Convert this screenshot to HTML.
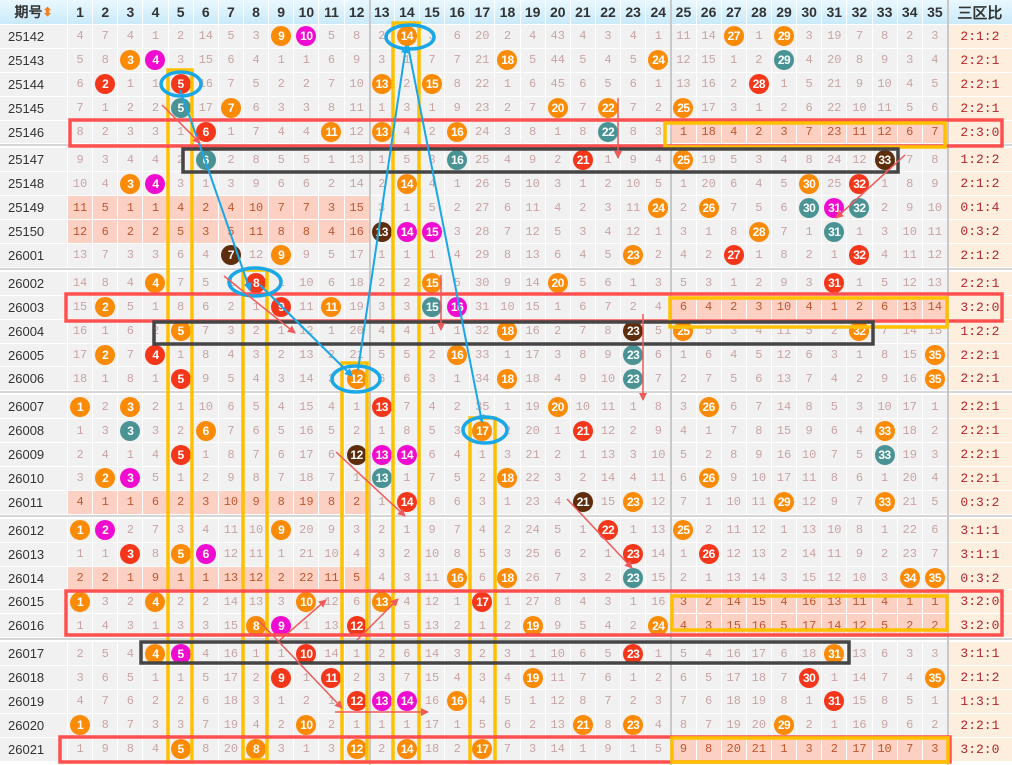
<!DOCTYPE html>
<html><head><meta charset="utf-8">
<style>
*{margin:0;padding:0;box-sizing:border-box}
body{width:1012px;height:765px;overflow:hidden;background:#fff;font-family:"Liberation Sans","Noto Sans CJK SC",sans-serif;position:relative}
.r{display:grid;grid-template-columns:68px repeat(35,25.143px) 64px;height:23.9px}
.r b{display:flex;align-items:center;justify-content:center;background:#f1f1f1;border-right:1px solid #fff;border-bottom:1px solid #fff;font-weight:normal;font-size:12px;color:#c9a4a4;font-family:"Liberation Mono",monospace}
.r b:first-child{color:#333;font-size:13px;justify-content:flex-start;padding-left:8px;font-family:"Liberation Sans",sans-serif}
.r b:last-child{background:#fdeede;color:#b3262b;font-size:13px;border-right:none}
.pl b:nth-child(n+2):nth-child(-n+13),.pr b:nth-child(n+26):nth-child(-n+36){background:#fcd1c4;color:#c0562e}
.r i{font-style:normal;width:20px;height:20px;border-radius:50%;color:#fff;font-weight:bold;font-size:12px;display:flex;align-items:center;justify-content:center;font-family:"Liberation Sans",sans-serif;letter-spacing:-0.5px}
.o{background:#fb8a04}.m{background:#f00bd0}.rd{background:#f4361a}.t{background:#4a9395}.d{background:#5e2e0c}
.h{height:25px}
.h b{background:linear-gradient(#eaf8fe,#c9eafa)!important;color:#333!important;font-weight:bold!important;font-size:14px!important;font-family:"Liberation Sans",sans-serif!important;justify-content:center!important;padding:0!important}
.h b:last-child{background:linear-gradient(#eaf8fe,#c9eafa)!important;font-size:15px!important}
.sep{height:4px;background:#fff;border-top:2px solid #d6d6d6}
svg{position:absolute;left:0;top:0}
</style></head><body>
<div class="r h"><b>期号<span style="color:#f08020;font-size:12px">⬍</span></b><b>1</b><b>2</b><b>3</b><b>4</b><b>5</b><b>6</b><b>7</b><b>8</b><b>9</b><b>10</b><b>11</b><b>12</b><b>13</b><b>14</b><b>15</b><b>16</b><b>17</b><b>18</b><b>19</b><b>20</b><b>21</b><b>22</b><b>23</b><b>24</b><b>25</b><b>26</b><b>27</b><b>28</b><b>29</b><b>30</b><b>31</b><b>32</b><b>33</b><b>34</b><b>35</b><b>三区比</b></div>

<div class="r"><b>25142</b><b>4</b><b>7</b><b>4</b><b>1</b><b>2</b><b>14</b><b>5</b><b>3</b><b><i class="o">9</i></b><b><i class="m">10</i></b><b>5</b><b>8</b><b>2</b><b><i class="o">14</i></b><b>3</b><b>6</b><b>20</b><b>2</b><b>4</b><b>43</b><b>4</b><b>3</b><b>4</b><b>1</b><b>11</b><b>14</b><b><i class="o">27</i></b><b>1</b><b><i class="o">29</i></b><b>3</b><b>19</b><b>7</b><b>8</b><b>2</b><b>3</b><b>2:1:2</b></div>
<div class="r"><b>25143</b><b>5</b><b>8</b><b><i class="o">3</i></b><b><i class="m">4</i></b><b>3</b><b>15</b><b>6</b><b>4</b><b>1</b><b>1</b><b>6</b><b>9</b><b>3</b><b>1</b><b>7</b><b>7</b><b>21</b><b><i class="o">18</i></b><b>5</b><b>44</b><b>5</b><b>4</b><b>5</b><b><i class="o">24</i></b><b>12</b><b>15</b><b>1</b><b>2</b><b><i class="t">29</i></b><b>4</b><b>20</b><b>8</b><b>9</b><b>3</b><b>4</b><b>2:2:1</b></div>
<div class="r"><b>25144</b><b>6</b><b><i class="rd">2</i></b><b>1</b><b>1</b><b><i class="rd">5</i></b><b>16</b><b>7</b><b>5</b><b>2</b><b>2</b><b>7</b><b>10</b><b><i class="o">13</i></b><b>2</b><b><i class="o">15</i></b><b>8</b><b>22</b><b>1</b><b>6</b><b>45</b><b>6</b><b>5</b><b>6</b><b>1</b><b>13</b><b>16</b><b>2</b><b><i class="rd">28</i></b><b>1</b><b>5</b><b>21</b><b>9</b><b>10</b><b>4</b><b>5</b><b>2:2:1</b></div>
<div class="r"><b>25145</b><b>7</b><b>1</b><b>2</b><b>2</b><b><i class="t">5</i></b><b>17</b><b><i class="o">7</i></b><b>6</b><b>3</b><b>3</b><b>8</b><b>11</b><b>1</b><b>3</b><b>1</b><b>9</b><b>23</b><b>2</b><b>7</b><b><i class="o">20</i></b><b>7</b><b><i class="o">22</i></b><b>7</b><b>2</b><b><i class="o">25</i></b><b>17</b><b>3</b><b>1</b><b>2</b><b>6</b><b>22</b><b>10</b><b>11</b><b>5</b><b>6</b><b>2:2:1</b></div>
<div class="r pr"><b>25146</b><b>8</b><b>2</b><b>3</b><b>3</b><b>1</b><b><i class="rd">6</i></b><b>1</b><b>7</b><b>4</b><b>4</b><b><i class="o">11</i></b><b>12</b><b><i class="o">13</i></b><b>4</b><b>2</b><b><i class="o">16</i></b><b>24</b><b>3</b><b>8</b><b>1</b><b>8</b><b><i class="t">22</i></b><b>8</b><b>3</b><b>1</b><b>18</b><b>4</b><b>2</b><b>3</b><b>7</b><b>23</b><b>11</b><b>12</b><b>6</b><b>7</b><b>2:3:0</b></div>
<div class="sep"></div>
<div class="r"><b>25147</b><b>9</b><b>3</b><b>4</b><b>4</b><b>2</b><b><i class="t">6</i></b><b>2</b><b>8</b><b>5</b><b>5</b><b>1</b><b>13</b><b>1</b><b>5</b><b>3</b><b><i class="t">16</i></b><b>25</b><b>4</b><b>9</b><b>2</b><b><i class="rd">21</i></b><b>1</b><b>9</b><b>4</b><b><i class="o">25</i></b><b>19</b><b>5</b><b>3</b><b>4</b><b>8</b><b>24</b><b>12</b><b><i class="d">33</i></b><b>7</b><b>8</b><b>1:2:2</b></div>
<div class="r"><b>25148</b><b>10</b><b>4</b><b><i class="o">3</i></b><b><i class="m">4</i></b><b>3</b><b>1</b><b>3</b><b>9</b><b>6</b><b>6</b><b>2</b><b>14</b><b>2</b><b><i class="o">14</i></b><b>4</b><b>1</b><b>26</b><b>5</b><b>10</b><b>3</b><b>1</b><b>2</b><b>10</b><b>5</b><b>1</b><b>20</b><b>6</b><b>4</b><b>5</b><b><i class="o">30</i></b><b>25</b><b><i class="rd">32</i></b><b>1</b><b>8</b><b>9</b><b>2:1:2</b></div>
<div class="r pl"><b>25149</b><b>11</b><b>5</b><b>1</b><b>1</b><b>4</b><b>2</b><b>4</b><b>10</b><b>7</b><b>7</b><b>3</b><b>15</b><b>3</b><b>1</b><b>5</b><b>2</b><b>27</b><b>6</b><b>11</b><b>4</b><b>2</b><b>3</b><b>11</b><b><i class="o">24</i></b><b>2</b><b><i class="o">26</i></b><b>7</b><b>5</b><b>6</b><b><i class="t">30</i></b><b><i class="m">31</i></b><b><i class="t">32</i></b><b>2</b><b>9</b><b>10</b><b>0:1:4</b></div>
<div class="r pl"><b>25150</b><b>12</b><b>6</b><b>2</b><b>2</b><b>5</b><b>3</b><b>5</b><b>11</b><b>8</b><b>8</b><b>4</b><b>16</b><b><i class="d">13</i></b><b><i class="m">14</i></b><b><i class="m">15</i></b><b>3</b><b>28</b><b>7</b><b>12</b><b>5</b><b>3</b><b>4</b><b>12</b><b>1</b><b>3</b><b>1</b><b>8</b><b><i class="o">28</i></b><b>7</b><b>1</b><b><i class="t">31</i></b><b>1</b><b>3</b><b>10</b><b>11</b><b>0:3:2</b></div>
<div class="r"><b>26001</b><b>13</b><b>7</b><b>3</b><b>3</b><b>6</b><b>4</b><b><i class="d">7</i></b><b>12</b><b><i class="o">9</i></b><b>9</b><b>5</b><b>17</b><b>1</b><b>1</b><b>1</b><b>4</b><b>29</b><b>8</b><b>13</b><b>6</b><b>4</b><b>5</b><b><i class="o">23</i></b><b>2</b><b>4</b><b>2</b><b><i class="rd">27</i></b><b>1</b><b>8</b><b>2</b><b>1</b><b><i class="rd">32</i></b><b>4</b><b>11</b><b>12</b><b>2:1:2</b></div>
<div class="sep"></div>
<div class="r"><b>26002</b><b>14</b><b>8</b><b>4</b><b><i class="o">4</i></b><b>7</b><b>5</b><b>1</b><b><i class="rd">8</i></b><b>1</b><b>10</b><b>6</b><b>18</b><b>2</b><b>2</b><b><i class="o">15</i></b><b>5</b><b>30</b><b>9</b><b>14</b><b><i class="o">20</i></b><b>5</b><b>6</b><b>1</b><b>3</b><b>5</b><b>3</b><b>1</b><b>2</b><b>9</b><b>3</b><b><i class="rd">31</i></b><b>1</b><b>5</b><b>12</b><b>13</b><b>2:2:1</b></div>
<div class="r pr"><b>26003</b><b>15</b><b><i class="o">2</i></b><b>5</b><b>1</b><b>8</b><b>6</b><b>2</b><b>1</b><b><i class="rd">9</i></b><b>11</b><b><i class="o">11</i></b><b>19</b><b>3</b><b>3</b><b><i class="t">15</i></b><b><i class="m">16</i></b><b>31</b><b>10</b><b>15</b><b>1</b><b>6</b><b>7</b><b>2</b><b>4</b><b>6</b><b>4</b><b>2</b><b>3</b><b>10</b><b>4</b><b>1</b><b>2</b><b>6</b><b>13</b><b>14</b><b>3:2:0</b></div>
<div class="r"><b>26004</b><b>16</b><b>1</b><b>6</b><b>2</b><b><i class="o">5</i></b><b>7</b><b>3</b><b>2</b><b>1</b><b>12</b><b>1</b><b>20</b><b>4</b><b>4</b><b>1</b><b>1</b><b>32</b><b><i class="o">18</i></b><b>16</b><b>2</b><b>7</b><b>8</b><b><i class="d">23</i></b><b>5</b><b><i class="o">25</i></b><b>5</b><b>3</b><b>4</b><b>11</b><b>5</b><b>2</b><b><i class="o">32</i></b><b>7</b><b>14</b><b>15</b><b>1:2:2</b></div>
<div class="r"><b>26005</b><b>17</b><b><i class="o">2</i></b><b>7</b><b><i class="rd">4</i></b><b>1</b><b>8</b><b>4</b><b>3</b><b>2</b><b>13</b><b>2</b><b>21</b><b>5</b><b>5</b><b>2</b><b><i class="o">16</i></b><b>33</b><b>1</b><b>17</b><b>3</b><b>8</b><b>9</b><b><i class="t">23</i></b><b>6</b><b>1</b><b>6</b><b>4</b><b>5</b><b>12</b><b>6</b><b>3</b><b>1</b><b>8</b><b>15</b><b><i class="o">35</i></b><b>2:2:1</b></div>
<div class="r"><b>26006</b><b>18</b><b>1</b><b>8</b><b>1</b><b><i class="rd">5</i></b><b>9</b><b>5</b><b>4</b><b>3</b><b>14</b><b>3</b><b><i class="o">12</i></b><b>6</b><b>6</b><b>3</b><b>1</b><b>34</b><b><i class="o">18</i></b><b>18</b><b>4</b><b>9</b><b>10</b><b><i class="t">23</i></b><b>7</b><b>2</b><b>7</b><b>5</b><b>6</b><b>13</b><b>7</b><b>4</b><b>2</b><b>9</b><b>16</b><b><i class="o">35</i></b><b>2:2:1</b></div>
<div class="sep"></div>
<div class="r"><b>26007</b><b><i class="o">1</i></b><b>2</b><b><i class="o">3</i></b><b>2</b><b>1</b><b>10</b><b>6</b><b>5</b><b>4</b><b>15</b><b>4</b><b>1</b><b><i class="rd">13</i></b><b>7</b><b>4</b><b>2</b><b>35</b><b>1</b><b>19</b><b><i class="o">20</i></b><b>10</b><b>11</b><b>1</b><b>8</b><b>3</b><b><i class="o">26</i></b><b>6</b><b>7</b><b>14</b><b>8</b><b>5</b><b>3</b><b>10</b><b>17</b><b>1</b><b>2:2:1</b></div>
<div class="r"><b>26008</b><b>1</b><b>3</b><b><i class="t">3</i></b><b>3</b><b>2</b><b><i class="o">6</i></b><b>7</b><b>6</b><b>5</b><b>16</b><b>5</b><b>2</b><b>1</b><b>8</b><b>5</b><b>3</b><b><i class="o">17</i></b><b>2</b><b>20</b><b>1</b><b><i class="rd">21</i></b><b>12</b><b>2</b><b>9</b><b>4</b><b>1</b><b>7</b><b>8</b><b>15</b><b>9</b><b>6</b><b>4</b><b><i class="o">33</i></b><b>18</b><b>2</b><b>2:2:1</b></div>
<div class="r"><b>26009</b><b>2</b><b>4</b><b>1</b><b>4</b><b><i class="rd">5</i></b><b>1</b><b>8</b><b>7</b><b>6</b><b>17</b><b>6</b><b><i class="d">12</i></b><b><i class="m">13</i></b><b><i class="m">14</i></b><b>6</b><b>4</b><b>1</b><b>3</b><b>21</b><b>2</b><b>1</b><b>13</b><b>3</b><b>10</b><b>5</b><b>2</b><b>8</b><b>9</b><b>16</b><b>10</b><b>7</b><b>5</b><b><i class="t">33</i></b><b>19</b><b>3</b><b>2:2:1</b></div>
<div class="r"><b>26010</b><b>3</b><b><i class="o">2</i></b><b><i class="m">3</i></b><b>5</b><b>1</b><b>2</b><b>9</b><b>8</b><b>7</b><b>18</b><b>7</b><b>1</b><b><i class="t">13</i></b><b>1</b><b>7</b><b>5</b><b>2</b><b><i class="o">18</i></b><b>22</b><b>3</b><b>2</b><b>14</b><b>4</b><b>11</b><b>6</b><b><i class="o">26</i></b><b>9</b><b>10</b><b>17</b><b>11</b><b>8</b><b>6</b><b>1</b><b>20</b><b>4</b><b>2:2:1</b></div>
<div class="r pl"><b>26011</b><b>4</b><b>1</b><b>1</b><b>6</b><b>2</b><b>3</b><b>10</b><b>9</b><b>8</b><b>19</b><b>8</b><b>2</b><b>1</b><b><i class="rd">14</i></b><b>8</b><b>6</b><b>3</b><b>1</b><b>23</b><b>4</b><b><i class="d">21</i></b><b>15</b><b><i class="o">23</i></b><b>12</b><b>7</b><b>1</b><b>10</b><b>11</b><b><i class="o">29</i></b><b>12</b><b>9</b><b>7</b><b><i class="o">33</i></b><b>21</b><b>5</b><b>0:3:2</b></div>
<div class="sep"></div>
<div class="r"><b>26012</b><b><i class="o">1</i></b><b><i class="m">2</i></b><b>2</b><b>7</b><b>3</b><b>4</b><b>11</b><b>10</b><b><i class="o">9</i></b><b>20</b><b>9</b><b>3</b><b>2</b><b>1</b><b>9</b><b>7</b><b>4</b><b>2</b><b>24</b><b>5</b><b>1</b><b><i class="rd">22</i></b><b>1</b><b>13</b><b><i class="o">25</i></b><b>2</b><b>11</b><b>12</b><b>1</b><b>13</b><b>10</b><b>8</b><b>1</b><b>22</b><b>6</b><b>3:1:1</b></div>
<div class="r"><b>26013</b><b>1</b><b>1</b><b><i class="rd">3</i></b><b>8</b><b><i class="o">5</i></b><b><i class="m">6</i></b><b>12</b><b>11</b><b>1</b><b>21</b><b>10</b><b>4</b><b>3</b><b>2</b><b>10</b><b>8</b><b>5</b><b>3</b><b>25</b><b>6</b><b>2</b><b>1</b><b><i class="rd">23</i></b><b>14</b><b>1</b><b><i class="rd">26</i></b><b>12</b><b>13</b><b>2</b><b>14</b><b>11</b><b>9</b><b>2</b><b>23</b><b>7</b><b>3:1:1</b></div>
<div class="r pl"><b>26014</b><b>2</b><b>2</b><b>1</b><b>9</b><b>1</b><b>1</b><b>13</b><b>12</b><b>2</b><b>22</b><b>11</b><b>5</b><b>4</b><b>3</b><b>11</b><b><i class="o">16</i></b><b>6</b><b><i class="o">18</i></b><b>26</b><b>7</b><b>3</b><b>2</b><b><i class="t">23</i></b><b>15</b><b>2</b><b>1</b><b>13</b><b>14</b><b>3</b><b>15</b><b>12</b><b>10</b><b>3</b><b><i class="o">34</i></b><b><i class="o">35</i></b><b>0:3:2</b></div>
<div class="r pr"><b>26015</b><b><i class="o">1</i></b><b>3</b><b>2</b><b><i class="o">4</i></b><b>2</b><b>2</b><b>14</b><b>13</b><b>3</b><b><i class="o">10</i></b><b>12</b><b>6</b><b><i class="o">13</i></b><b>4</b><b>12</b><b>1</b><b><i class="rd">17</i></b><b>1</b><b>27</b><b>8</b><b>4</b><b>3</b><b>1</b><b>16</b><b>3</b><b>2</b><b>14</b><b>15</b><b>4</b><b>16</b><b>13</b><b>11</b><b>4</b><b>1</b><b>1</b><b>3:2:0</b></div>
<div class="r pr"><b>26016</b><b>1</b><b>4</b><b>3</b><b>1</b><b>3</b><b>3</b><b>15</b><b><i class="o">8</i></b><b><i class="m">9</i></b><b>1</b><b>13</b><b><i class="rd">12</i></b><b>1</b><b>5</b><b>13</b><b>2</b><b>1</b><b>2</b><b><i class="o">19</i></b><b>9</b><b>5</b><b>4</b><b>2</b><b><i class="o">24</i></b><b>4</b><b>3</b><b>15</b><b>16</b><b>5</b><b>17</b><b>14</b><b>12</b><b>5</b><b>2</b><b>2</b><b>3:2:0</b></div>
<div class="sep"></div>
<div class="r"><b>26017</b><b>2</b><b>5</b><b>4</b><b><i class="o">4</i></b><b><i class="m">5</i></b><b>4</b><b>16</b><b>1</b><b>1</b><b><i class="rd">10</i></b><b>14</b><b>1</b><b>2</b><b>6</b><b>14</b><b>3</b><b>2</b><b>3</b><b>1</b><b>10</b><b>6</b><b>5</b><b><i class="rd">23</i></b><b>1</b><b>5</b><b>4</b><b>16</b><b>17</b><b>6</b><b>18</b><b><i class="o">31</i></b><b>13</b><b>6</b><b>3</b><b>3</b><b>3:1:1</b></div>
<div class="r"><b>26018</b><b>3</b><b>6</b><b>5</b><b>1</b><b>1</b><b>5</b><b>17</b><b>2</b><b><i class="rd">9</i></b><b>1</b><b><i class="rd">11</i></b><b>2</b><b>3</b><b>7</b><b>15</b><b>4</b><b>3</b><b>4</b><b><i class="o">19</i></b><b>11</b><b>7</b><b>6</b><b>1</b><b>2</b><b>6</b><b>5</b><b>17</b><b>18</b><b>7</b><b><i class="rd">30</i></b><b>1</b><b>14</b><b>7</b><b>4</b><b><i class="o">35</i></b><b>2:1:2</b></div>
<div class="r"><b>26019</b><b>4</b><b>7</b><b>6</b><b>2</b><b>2</b><b>6</b><b>18</b><b>3</b><b>1</b><b>2</b><b>1</b><b><i class="rd">12</i></b><b><i class="m">13</i></b><b><i class="m">14</i></b><b>16</b><b><i class="o">16</i></b><b>4</b><b>5</b><b>1</b><b>12</b><b>8</b><b>7</b><b>2</b><b>3</b><b>7</b><b>6</b><b>18</b><b>19</b><b>8</b><b>1</b><b><i class="rd">31</i></b><b>15</b><b>8</b><b>5</b><b>1</b><b>1:3:1</b></div>
<div class="r"><b>26020</b><b><i class="o">1</i></b><b>8</b><b>7</b><b>3</b><b>3</b><b>7</b><b>19</b><b>4</b><b>2</b><b><i class="o">10</i></b><b>2</b><b>1</b><b>1</b><b>1</b><b>17</b><b>1</b><b>5</b><b>6</b><b>2</b><b>13</b><b><i class="o">21</i></b><b>8</b><b><i class="o">23</i></b><b>4</b><b>8</b><b>7</b><b>19</b><b>20</b><b><i class="o">29</i></b><b>2</b><b>1</b><b>16</b><b>9</b><b>6</b><b>2</b><b>2:2:1</b></div>
<div class="r pr"><b>26021</b><b>1</b><b>9</b><b>8</b><b>4</b><b><i class="o">5</i></b><b>8</b><b>20</b><b><i class="o">8</i></b><b>3</b><b>1</b><b>3</b><b><i class="o">12</i></b><b>2</b><b><i class="o">14</i></b><b>18</b><b>2</b><b><i class="o">17</i></b><b>7</b><b>3</b><b>14</b><b>1</b><b>9</b><b>1</b><b>5</b><b>9</b><b>8</b><b>20</b><b>21</b><b>1</b><b>3</b><b>2</b><b>17</b><b>10</b><b>7</b><b>3</b><b>3:2:0</b></div>

<svg width="1012" height="765" viewBox="0 0 1012 765">
<defs>
<marker id="ar" markerWidth="8" markerHeight="8" refX="7" refY="4" orient="auto" markerUnits="userSpaceOnUse"><path d="M0,0 L8,4 L0,8 z" fill="#f05a5a"/></marker>
<marker id="ab" markerWidth="8" markerHeight="8" refX="7" refY="4" orient="auto" markerUnits="userSpaceOnUse"><path d="M0,0 L8,4 L0,8 z" fill="#1aa7e8"/></marker>
</defs>
<g stroke="#c8c8c8" stroke-width="2">
<line x1="370" y1="0" x2="370" y2="765"/><line x1="671" y1="0" x2="671" y2="765"/><line x1="948" y1="0" x2="948" y2="765"/>
</g>
<g fill="none" stroke="#ffc000" stroke-width="3.5">
<rect x="168" y="70" width="24" height="692"/>
<rect x="243" y="270" width="24" height="490"/>
<rect x="393" y="23" width="26" height="739"/>
<rect x="342" y="363" width="25" height="399"/>
<rect x="470" y="418" width="25" height="344"/>
</g>
<g fill="none" stroke="#ff5050" stroke-width="3.5">
<rect x="70" y="120" width="932" height="26"/>
<rect x="66" y="294" width="936" height="27"/>
<rect x="66" y="591" width="936" height="44"/>
<rect x="60" y="737" width="890" height="25"/>
</g>
<g fill="none" stroke="#ffc000" stroke-width="3.5">
<rect x="665" y="123" width="280" height="24"/>
<rect x="670" y="298" width="277" height="29"/>
<rect x="672" y="596" width="275" height="34"/>
<rect x="672" y="738" width="276" height="24"/>
</g>
<g fill="none" stroke="#454545" stroke-width="3.5">
<rect x="183" y="149" width="715" height="23"/>
<rect x="154" y="322" width="719" height="22"/>
<rect x="141" y="642" width="708" height="21"/>
</g>
<g fill="none" stroke="#1aa7e8" stroke-width="3.5">
<ellipse cx="181" cy="84" rx="20" ry="12"/>
<ellipse cx="410" cy="37" rx="24" ry="12"/>
<ellipse cx="255" cy="282" rx="26" ry="14"/>
<ellipse cx="356" cy="379" rx="24" ry="13"/>
<ellipse cx="485" cy="430" rx="22" ry="13"/>
</g>
<g stroke="#1aa7e8" stroke-width="2" fill="none">
<polyline points="180,90 205,160 250,290" marker-end="url(#ab)"/>
<line x1="260" y1="285" x2="352" y2="376" marker-end="url(#ab)"/>
<line x1="358" y1="370" x2="406" y2="46" marker-end="url(#ab)"/>
<line x1="408" y1="46" x2="482" y2="422" marker-end="url(#ab)"/>
</g>
<g stroke="#f05a5a" stroke-width="1.5" fill="none" marker-end="url(#ar)">
<line x1="162" y1="105" x2="200" y2="143"/>
<line x1="618" y1="98" x2="618" y2="158"/>
<line x1="905" y1="155" x2="836" y2="218"/>
<line x1="224" y1="276" x2="295" y2="333"/>
<line x1="441" y1="275" x2="441" y2="330"/>
<line x1="643" y1="314" x2="643" y2="400"/>
<line x1="336" y1="452" x2="405" y2="516"/>
<line x1="567" y1="499" x2="632" y2="568"/>
<line x1="357" y1="640" x2="398" y2="599"/>
<line x1="280" y1="640" x2="326" y2="600"/>
<line x1="258" y1="620" x2="342" y2="708"/>
<line x1="335" y1="712" x2="428" y2="712"/>
</g>
</svg>
</body></html>
